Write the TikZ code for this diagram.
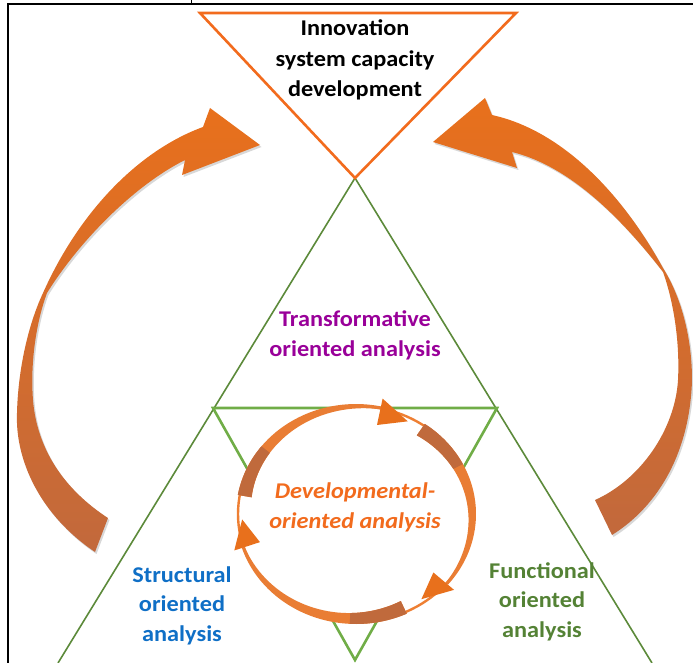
\documentclass[tikz,border=0pt]{standalone}
\usepackage{fontspec}
\setmainfont{Carlito}[FakeStretch=1.08]
\usepackage[dvipsnames]{xcolor}
\usetikzlibrary{calc,positioning}

\definecolor{capOrange}{HTML}{F26B1D}
\definecolor{bendTop}{HTML}{E8701C}
\definecolor{bendBottom}{HTML}{C2693C}
\definecolor{ringOrange}{HTML}{EE7F33}
\definecolor{ringBrown}{HTML}{C06A3C}
\definecolor{darkGreen}{HTML}{5C8A3A}
\definecolor{lightGreen}{HTML}{70AD47}
\definecolor{transPurple}{HTML}{990099}
\definecolor{structBlue}{HTML}{0F6FC6}
\definecolor{funcGreen}{HTML}{548235}

\begin{document}
\begin{tikzpicture}[x=1pt,y=-1pt,line join=miter,
    txt/.style={font=\fontsize{22.5}{29.5}\selectfont\bfseries,align=center,anchor=base,inner sep=0pt},
    outer tri/.style={draw=darkGreen,line width=1.6pt},
    inner tri/.style={draw=lightGreen,line width=2.6pt},
    cap tri/.style={draw=capOrange,line width=2.6pt,fill=white},
    ring/.style={draw=ringOrange,line width=2.4pt,fill=white},
    bent arrow/.style={top color=bendTop,bottom color=bendBottom,shading angle=0,
        preaction={fill=black!70,opacity=0.22,transform canvas={xshift=1.5pt,yshift=-2pt}}}]

    \useasboundingbox (0,0) rectangle (693,663);

    % frame of the table cell
    \draw[black,line width=2pt] (8,663) -- (8,4) -- (693,4);
    \draw[black,line width=1pt] (191,0) -- (191,4);

    % corners of the triangles
    \coordinate (apex) at (355,178);
    \coordinate (baseL) at (58,663);
    \coordinate (baseR) at (652,663);
    \coordinate (midL) at (213,408);
    \coordinate (midR) at (497,408);
    \coordinate (midB) at (355,660);
    \coordinate (capL) at (200,13);
    \coordinate (capR) at (516,13);

    \draw[outer tri] (baseL) -- (apex) -- (baseR);
    \draw[inner tri] (midL) -- (midR) -- (midB) -- cycle;
    \draw[cap tri] (capL) -- (capR) -- (apex) -- cycle;

    % the loop in the middle
    \coordinate (hub) at (356,514);
    \draw[ring] (hub) ellipse [x radius=118, y radius=108];

    \foreach \tail/\head in {190/282, 305/400, 65/162}{
        \fill[ringOrange!90!ringBrown]
            plot[domain=\tail:\head,samples=40] ({356+120*cos(\x)},{514+110*sin(\x)})
            -- plot[domain=\head:\tail,samples=40]
               ({356+(117-11*(\head-\x)/(\head-\tail))*cos(\x)},{514+(107-11*(\head-\x)/(\head-\tail))*sin(\x)})
            -- cycle;
        \fill[ringBrown]
            plot[domain=\tail:\tail+28,samples=15] ({356+120*cos(\x)},{514+110*sin(\x)})
            -- plot[domain=\tail+28:\tail,samples=15]
               ({356+(117-11*(\head-\x)/(\head-\tail))*cos(\x)},{514+(107-11*(\head-\x)/(\head-\tail))*sin(\x)})
            -- cycle;
        \fill[bendTop]
            ({356+128*cos(\head)},{514+118*sin(\head)})
            -- ({356+114*cos(\head+15)},{514+104*sin(\head+15)})
            -- ({356+101*cos(\head)},{514+91*sin(\head)}) -- cycle;
    }

    % big bent arrows on both sides
    \shade[bent arrow] (95,552) .. controls (40,515) and (15,460) .. (17,413)
        .. controls (18,370) and (28,325) .. (43,293)
        .. controls (80,210) and (140,150) .. (203,127)
        -- (210,108) -- (260,145) -- (182,175) -- (185,160)
        .. controls (135,185) and (80,240) .. (47,293)
        .. controls (37,320) and (30,360) .. (33,400)
        .. controls (37,450) and (65,490) .. (108,518) -- cycle;

    \shade[bent arrow] (612,535) .. controls (660,505) and (690,450) .. (692,380)
        .. controls (692,335) and (680,295) .. (663,268)
        .. controls (620,190) and (560,130) .. (492,115)
        -- (485,98) -- (433,142) -- (517,168) -- (512,152)
        .. controls (565,165) and (615,210) .. (663,272)
        .. controls (673,300) and (680,340) .. (678,380)
        .. controls (675,430) and (640,480) .. (595,500) -- cycle;

    % labels (anchored on the baseline of their last line)
    \node[txt,font=\fontsize{22.5}{30.5}\selectfont\bfseries] (capacity) [] at (355,97) {Innovation\\system capacity\\development};
    \node[txt,text=transPurple] (transform) [] at (355,356) {Transformative\\oriented analysis};
    \node[txt,text=capOrange,font=\fontsize{22.5}{29.5}\selectfont\bfseries\itshape] (develop) [] at (355,528) {Developmental-\\oriented analysis};
    \node[txt,text=structBlue] (struct) [] at (182,641) {Structural\\oriented\\analysis};
    \node[txt,text=funcGreen] (func) [] at (542,637) {Functional\\oriented\\analysis};

\end{tikzpicture}
\end{document}
